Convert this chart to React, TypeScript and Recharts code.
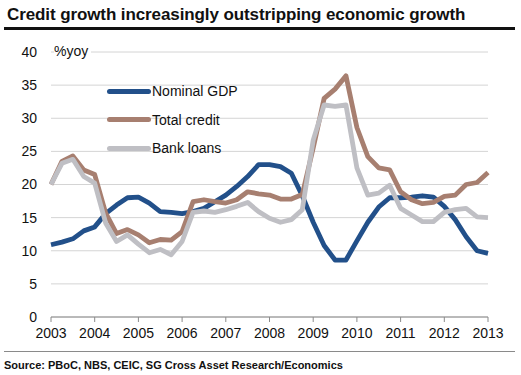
import {
  CartesianGrid,
  Legend,
  Line,
  LineChart,
  XAxis,
  YAxis,
} from "recharts";

const GDP_COLOR = "#22508a";
const CREDIT_COLOR = "#a77f70";
const LOANS_COLOR = "#bfbfc4";

// quarterly, 2003Q1 .. 2013Q1
const quarters = Array.from({ length: 41 }, (_, i) => 2003 + i / 4);

const nominalGdp = [
  10.9, 11.3, 11.8, 13.0, 13.6, 15.6, 16.9, 18.0, 18.1, 17.2, 15.9, 15.8, 15.6,
  15.9, 16.4, 17.4, 18.4, 19.7, 21.2, 23.0, 23.0, 22.7, 21.7, 18.3, 14.3, 10.8,
  8.6, 8.6, 11.5, 14.3, 16.6, 18.0, 18.0, 18.1, 18.3, 18.1, 16.7, 14.7, 12.1,
  10.0, 9.6,
];

const totalCredit = [
  20.0, 23.5, 24.3, 22.2, 21.5, 15.7, 12.6, 13.2, 12.4, 11.2, 11.7, 11.6, 12.9,
  17.4, 17.7, 17.4, 17.2, 17.7, 18.9, 18.6, 18.4, 17.8, 17.8, 18.5, 25.5, 33.0,
  34.4, 36.4, 28.6, 24.2, 22.5, 22.2, 18.9, 17.7, 17.1, 17.3, 18.2, 18.4, 20.0,
  20.3, 21.8,
];

const bankLoans = [
  20.0, 23.2, 23.8, 21.2, 20.2, 14.2, 11.4, 12.4, 11.0, 9.7, 10.2, 9.4, 11.4,
  15.8, 16.0, 15.8, 16.2, 16.7, 17.3, 15.9, 14.9, 14.3, 14.7, 16.2, 26.7, 32.0,
  31.8, 32.0, 22.5, 18.4, 18.7, 19.9, 16.4, 15.4, 14.4, 14.4, 15.8, 16.2, 16.4,
  15.1, 15.0,
];

const seriesNames = ["Nominal GDP", "Total credit", "Bank loans"];
const yearTicks = [2003, 2004, 2005, 2006, 2007, 2008, 2009, 2010, 2011, 2012, 2013];
const valueTicks = [0, 5, 10, 15, 20, 25, 30, 35, 40];

const data = quarters.map((q, i) => ({
  q,
  gdp: nominalGdp[i],
  credit: totalCredit[i],
  loans: bankLoans[i],
}));

const FONT = "'Liberation Sans', Arial, sans-serif";

function LegendBox({ payload }: any) {
  const items = seriesNames
    .map((n) => (payload || []).find((p: any) => p.value === n))
    .filter(Boolean);
  return (
    <div>
      {items.map((p: any) => (
        <div
          key={p.value}
          style={{ display: "flex", alignItems: "center", height: 28.5 }}
        >
          <div
            style={{
              width: 44,
              height: 5,
              borderRadius: 3,
              background: p.color,
              marginRight: 1,
            }}
          />
          <span style={{ fontSize: 14, color: "#111", fontFamily: FONT }}>
            {p.value}
          </span>
        </div>
      ))}
    </div>
  );
}

export default function App() {
  return (
    <div
      style={{
        position: "fixed",
        left: 0,
        top: 0,
        width: 521,
        height: 375,
        background: "#fff",
        fontFamily: FONT,
      }}
    >
      <div
        style={{
          position: "absolute",
          left: 7,
          top: 5,
          fontSize: 17,
          fontWeight: "bold",
          color: "#111",
          letterSpacing: -0.1,
          whiteSpace: "nowrap",
        }}
      >
        Credit growth increasingly outstripping economic growth
      </div>
      <div
        style={{
          position: "absolute",
          left: 4,
          top: 27,
          width: 511,
          height: 2.5,
          background: "#111",
        }}
      />
      <LineChart
        width={521}
        height={375}
        data={data}
        margin={{ top: 52, right: 33, bottom: 28, left: 0 }}
        style={{ position: "absolute", left: 0, top: 0 }}
      >
        <CartesianGrid vertical={false} stroke="#d4d4d4" strokeWidth={1} />
        <XAxis
          dataKey="q"
          type="number"
          domain={[2003, 2013]}
          ticks={yearTicks}
          interval={0}
          height={30}
          stroke="#8a8a8a"
          tickSize={5}
          tickMargin={6}
          tick={{ fontSize: 14, fill: "#111", fontFamily: FONT }}
        />
        <YAxis
          domain={[0, 40]}
          ticks={valueTicks}
          interval={0}
          width={51}
          axisLine={false}
          tickLine={false}
          tickMargin={8}
          tick={{ fontSize: 14, fill: "#111", fontFamily: FONT }}
        />
        <Legend
          layout="vertical"
          verticalAlign="middle"
          align="center"
          content={<LegendBox />}
          wrapperStyle={{ left: 107, top: 77, width: 160 }}
        />
        <Line
          type="linear"
          dataKey="gdp"
          name="Nominal GDP"
          stroke={GDP_COLOR}
          strokeWidth={4.8}
          dot={false}
          strokeLinejoin="round"
          isAnimationActive={false}
        />
        <Line
          type="linear"
          dataKey="credit"
          name="Total credit"
          stroke={CREDIT_COLOR}
          strokeWidth={4.8}
          dot={false}
          strokeLinejoin="round"
          isAnimationActive={false}
        />
        <Line
          type="linear"
          dataKey="loans"
          name="Bank loans"
          stroke={LOANS_COLOR}
          strokeWidth={4.8}
          dot={false}
          strokeLinejoin="round"
          isAnimationActive={false}
        />
      </LineChart>
      <div
        style={{
          position: "absolute",
          left: 54,
          top: 43,
          fontSize: 14,
          color: "#111",
          background: "#fff",
          paddingRight: 3,
        }}
      >
        %yoy
      </div>
      <div
        style={{
          position: "absolute",
          left: 4,
          top: 351,
          width: 511,
          height: 1,
          background: "#8a8a8a",
        }}
      />
      <div
        style={{
          position: "absolute",
          left: 4,
          top: 359,
          fontSize: 11,
          fontWeight: "bold",
          color: "#111",
          whiteSpace: "nowrap",
        }}
      >
        Source: PBoC, NBS, CEIC, SG Cross Asset Research/Economics
      </div>
    </div>
  );
}
